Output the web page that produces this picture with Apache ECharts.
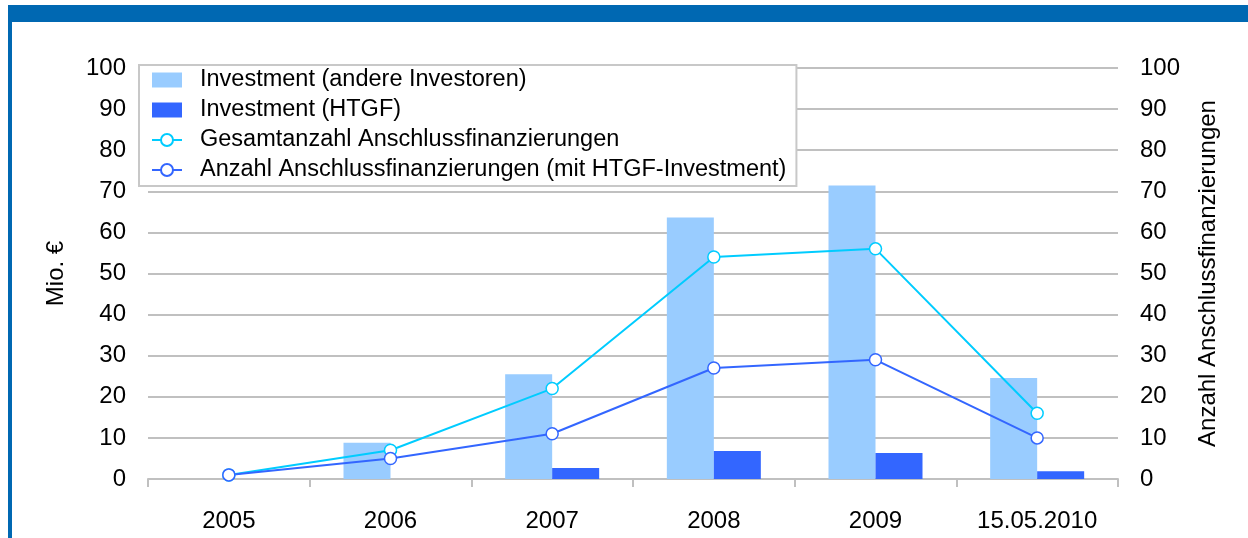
<!DOCTYPE html>
<html>
<head>
<meta charset="utf-8">
<script src="https://cdn.jsdelivr.net/npm/echarts@6/dist/echarts.min.js"></script>
<style>
  html, body { margin: 0; padding: 0; background: #fff; }
  #chart { width: 1248px; height: 538px; }
</style>
</head>
<body>
<div id="chart"></div>
<script>
// categories and values
const categories = ["2005", "2006", "2007", "2008", "2009", "15.05.2010"];
const investAndere = [0, 8.8, 25.5, 63.6, 71.4, 24.6];
const investHtgf = [0, 0, 2.7, 6.8, 6.3, 1.9];
const gesamtAnzahl = [1, 7, 22, 54, 56, 16];
const anzahlHtgf = [1, 5, 11, 27, 29, 10];

const font = "'Liberation Sans', Arial, sans-serif";
const gridColor = "#c0c0c0";

const chart = echarts.init(document.getElementById("chart"));

const option = {
  animation: false,
  textStyle: { fontFamily: font },
  graphic: [
    { type: "rect", shape: { x: 8, y: 5, width: 1240, height: 17 }, style: { fill: "#0068b2" } },
    { type: "rect", shape: { x: 8, y: 22, width: 4, height: 516 }, style: { fill: "#0068b2" } },
  ],
  grid: { left: 148, right: 130, top: 68, bottom: 59 },
  legend: {
    orient: "vertical",
    left: 139,
    top: 65,
    padding: [3, 10, 4, 12],
    backgroundColor: "#fff",
    borderColor: "#c8c8c8",
    borderWidth: 2,
    itemWidth: 30,
    itemHeight: 15,
    itemGap: 6,
    textStyle: { fontSize: 23.5, color: "#000", fontFamily: font, padding: [0, 0, 0, 13] },
    data: [
      { name: "Investment (andere Investoren)", icon: "rect" },
      { name: "Investment (HTGF)", icon: "rect" },
      "Gesamtanzahl Anschlussfinanzierungen",
      "Anzahl Anschlussfinanzierungen (mit HTGF-Investment)",
    ],
  },
  xAxis: {
    type: "category",
    data: categories,
    boundaryGap: true,
    axisLine: { lineStyle: { color: gridColor, width: 2 } },
    axisTick: { show: true, length: 8, lineStyle: { color: gridColor, width: 2 } },
    axisLabel: { color: "#000", fontSize: 24, margin: 30, fontFamily: font },
  },
  yAxis: [
    {
      type: "value",
      min: 0,
      max: 100,
      interval: 10,
      name: "Mio. €",
      nameLocation: "middle",
      nameGap: 80,
      nameRotate: 90,
      nameTextStyle: { color: "#000", fontSize: 24, fontFamily: font },
      axisLine: { show: false },
      axisTick: { show: false },
      axisLabel: { color: "#000", fontSize: 24, margin: 22, fontFamily: font },
      splitLine: { lineStyle: { color: gridColor, width: 2 } },
    },
    {
      type: "value",
      min: 0,
      max: 100,
      interval: 10,
      position: "right",
      name: "Anzahl Anschlussfinanzierungen",
      nameLocation: "middle",
      nameGap: 78,
      nameRotate: 90,
      nameTextStyle: { color: "#000", fontSize: 24, fontFamily: font },
      axisLine: { show: false },
      axisTick: { show: false },
      axisLabel: { color: "#000", fontSize: 24, margin: 22, fontFamily: font },
      splitLine: { show: false },
    },
  ],
  series: [
    {
      name: "Investment (andere Investoren)",
      type: "bar",
      data: investAndere,
      barWidth: 47,
      barGap: "0%",
      itemStyle: { color: "#99ccff" },
    },
    {
      name: "Investment (HTGF)",
      type: "bar",
      data: investHtgf,
      barWidth: 47,
      barGap: "0%",
      itemStyle: { color: "#3366ff" },
    },
    {
      name: "Gesamtanzahl Anschlussfinanzierungen",
      type: "line",
      yAxisIndex: 1,
      data: gesamtAnzahl,
      symbol: "circle",
      symbolSize: 12,
      lineStyle: { color: "#00ccff", width: 2 },
      itemStyle: { color: "#fff", borderColor: "#00ccff", borderWidth: 1.5 },
    },
    {
      name: "Anzahl Anschlussfinanzierungen (mit HTGF-Investment)",
      type: "line",
      yAxisIndex: 1,
      data: anzahlHtgf,
      symbol: "circle",
      symbolSize: 12,
      lineStyle: { color: "#3366ff", width: 2 },
      itemStyle: { color: "#fff", borderColor: "#3366ff", borderWidth: 1.5 },
    },
  ],
};

chart.setOption(option);
</script>
</body>
</html>
